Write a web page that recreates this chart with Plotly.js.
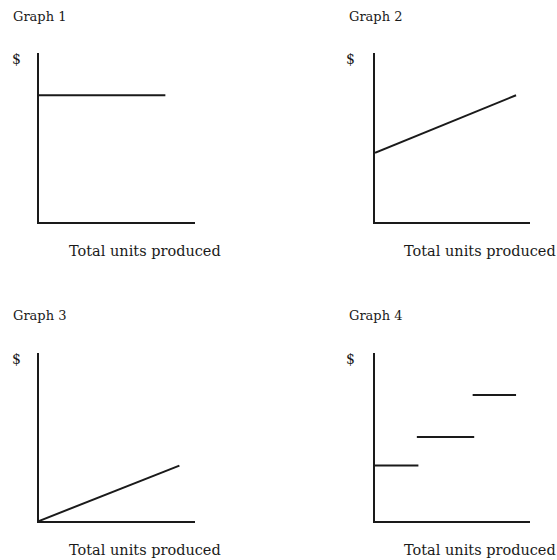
<!DOCTYPE html>
<html>
<head>
<meta charset="utf-8">
<script src="https://cdn.plot.ly/plotly-3.0.1.min.js"></script>
<style>
  html, body { margin: 0; padding: 0; background: #fff; }
  #chart { width: 557px; height: 560px; }
</style>
</head>
<body>
<div id="chart"></div>
<script>
// Cost behaviour sketches: total $ against total units produced
const graphTitles = ["Graph 1", "Graph 2", "Graph 3", "Graph 4"];
const yLabel = "$";
const xLabel = "Total units produced";

// Graph 1: fixed cost (flat line)
const g1X = [0, 8.1];
const g1Y = [7.5, 7.5];

// Graph 2: mixed cost (intercept plus slope)
const g2X = [0, 9.1];
const g2Y = [4.1, 7.5];

// Graph 3: variable cost (through the origin)
const g3X = [0, 9.0];
const g3Y = [0, 3.3];

// Graph 4: step cost
const stepStarts = [0, 2.7, 6.3];
const stepEnds = [2.8, 6.4, 9.1];
const stepLevels = [3.3, 5.0, 7.5];

const W = 557, H = 560;
const px = x => x / W;
const py = y => 1 - y / H;

const lineStyle = { color: "#1a1a1a", width: 2 };

const g4X = [], g4Y = [];
stepLevels.forEach((lv, i) => {
  g4X.push(stepStarts[i], stepEnds[i], null);
  g4Y.push(lv, lv, null);
});

const traces = [
  { x: g1X, y: g1Y, xaxis: "x", yaxis: "y" },
  { x: g2X, y: g2Y, xaxis: "x2", yaxis: "y2" },
  { x: g3X, y: g3Y, xaxis: "x3", yaxis: "y3" },
  { x: g4X, y: g4Y, xaxis: "x4", yaxis: "y4" }
].map(t => Object.assign(t, {
  type: "scatter", mode: "lines", line: lineStyle,
  hoverinfo: "skip", showlegend: false, connectgaps: false
}));

const axisBase = {
  range: [0, 10], showline: true, linecolor: "#1a1a1a", linewidth: 2,
  showgrid: false, zeroline: false, showticklabels: false, ticks: "",
  fixedrange: true
};

const leftDom = [px(39), px(195)];
const rightDom = [px(375), px(530)];
const topDom = [py(222), py(53)];
const botDom = [py(521), py(353)];

const ax = (dom, anchor) => Object.assign({}, axisBase, { domain: dom, anchor: anchor });

// panel positions in pixels: [title x, title y, $ x, $ y, label x, label y]
const panels = [
  [11, 16, 16, 59, 67, 251],
  [347, 16, 350, 59, 402, 251],
  [11, 315, 16, 359, 67, 550],
  [347, 315, 350, 359, 402, 550]
];

const textFont = { family: "DejaVu Serif, Liberation Serif, serif", color: "#1a1a1a" };
const annotations = [];
panels.forEach((p, i) => {
  annotations.push({
    text: graphTitles[i], xref: "paper", yref: "paper", x: px(p[0]), y: py(p[1]),
    xanchor: "left", yanchor: "middle", showarrow: false,
    font: Object.assign({ size: 13 }, textFont)
  });
  annotations.push({
    text: yLabel, xref: "paper", yref: "paper", x: px(p[2]), y: py(p[3]),
    xanchor: "center", yanchor: "middle", showarrow: false,
    font: Object.assign({ size: 14 }, textFont)
  });
  annotations.push({
    text: xLabel, xref: "paper", yref: "paper", x: px(p[4]), y: py(p[5]),
    xanchor: "left", yanchor: "middle", showarrow: false,
    font: Object.assign({ size: 14.5 }, textFont)
  });
});

const layout = {
  width: W, height: H,
  margin: { l: 0, r: 0, t: 0, b: 0 },
  paper_bgcolor: "#ffffff", plot_bgcolor: "#ffffff",
  xaxis: ax(leftDom, "y"), yaxis: ax(topDom, "x"),
  xaxis2: ax(rightDom, "y2"), yaxis2: ax(topDom, "x2"),
  xaxis3: ax(leftDom, "y3"), yaxis3: ax(botDom, "x3"),
  xaxis4: ax(rightDom, "y4"), yaxis4: ax(botDom, "x4"),
  annotations: annotations
};

Plotly.newPlot("chart", traces, layout, { staticPlot: true, displayModeBar: false });
</script>
</body>
</html>
